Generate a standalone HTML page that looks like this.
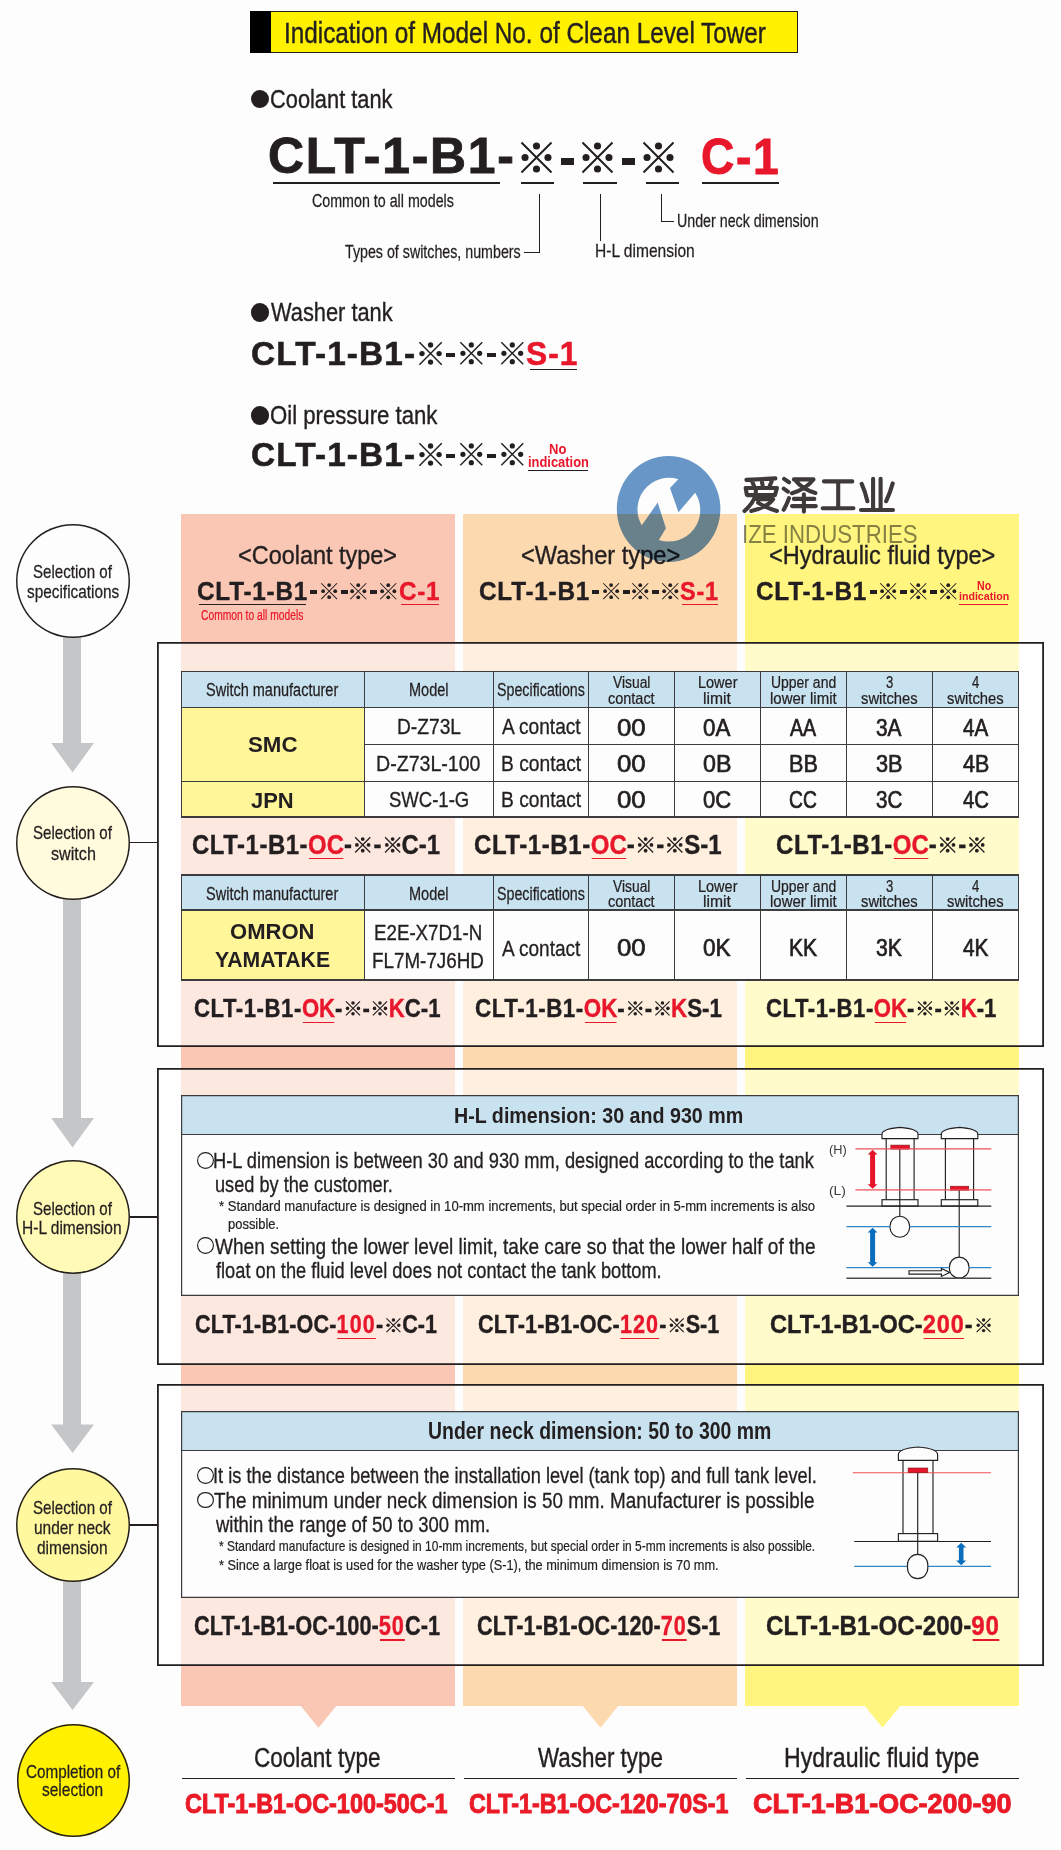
<!DOCTYPE html>
<html><head><meta charset="utf-8"><title>Indication of Model No. of Clean Level Tower</title>
<style>
html,body{margin:0;padding:0;background:#fdfdfd}
body{width:1061px;height:1850px;position:relative;overflow:hidden;font-family:"Liberation Sans",sans-serif;color:#231f20}
.t{position:absolute;white-space:nowrap;line-height:1;transform-origin:0 0;font-family:"Liberation Sans",sans-serif}
.r{position:absolute}
.k{display:inline-block;overflow:visible}
.rd{color:#e8172b}
.ul{position:relative;display:inline-block}
.ul:after{content:"";position:absolute;left:0.04em;right:0.02em;bottom:-0.05em;height:0.047em;background:currentColor}
svg{position:absolute;overflow:visible}
svg.k{position:static}
</style></head><body>
<svg width="0" height="0" style="position:absolute"><defs>
<symbol id="km" viewBox="0 0 100 100" overflow="visible"><path d="M1.5 1.5L98.5 98.5M98.5 1.5L1.5 98.5" stroke="currentColor" stroke-width="6.3" fill="none"/><circle cx="50" cy="13" r="11.5" fill="currentColor"/><circle cx="50" cy="87" r="11.5" fill="currentColor"/><circle cx="13" cy="50" r="11.5" fill="currentColor"/><circle cx="87" cy="50" r="11.5" fill="currentColor"/></symbol>
<symbol id="km2" viewBox="0 0 100 100" overflow="visible"><path d="M2 2L98 98M98 2L2 98" stroke="currentColor" stroke-width="8" fill="none"/><circle cx="50" cy="13" r="12" fill="currentColor"/><circle cx="50" cy="87" r="12" fill="currentColor"/><circle cx="13" cy="50" r="12" fill="currentColor"/><circle cx="87" cy="50" r="12" fill="currentColor"/></symbol>
</defs></svg>
<div class="r" style="left:181.25px;top:514.25px;width:273.75px;height:1191.45px;background:#f9c7b3;"></div>
<svg class="r" style="left:299.93px;top:1705px;width:38px;height:24px" viewBox="0 0 38 24"><path d="M0 0H37L18.5 22.8Z" fill="#f9c7b3"/></svg>
<div class="r" style="left:463.00px;top:514.25px;width:274.00px;height:1191.45px;background:#fdd9b0;"></div>
<svg class="r" style="left:581.80px;top:1705px;width:38px;height:24px" viewBox="0 0 38 24"><path d="M0 0H37L18.5 22.8Z" fill="#fdd9b0"/></svg>
<div class="r" style="left:745.00px;top:514.25px;width:274.00px;height:1191.45px;background:#fff57f;"></div>
<svg class="r" style="left:863.80px;top:1705px;width:38px;height:24px" viewBox="0 0 38 24"><path d="M0 0H37L18.5 22.8Z" fill="#fff57f"/></svg>
<div class="r" style="left:156.50px;top:642.00px;width:887.10px;height:405.40px;background:rgba(255,255,255,0.59);box-shadow:inset 0 0 0 1.80px #231f20;"></div>
<div class="r" style="left:156.50px;top:1067.90px;width:887.10px;height:296.90px;background:rgba(255,255,255,0.59);box-shadow:inset 0 0 0 1.80px #231f20;"></div>
<div class="r" style="left:156.50px;top:1384.30px;width:887.10px;height:282.10px;background:rgba(255,255,255,0.59);box-shadow:inset 0 0 0 1.80px #231f20;"></div>
<div class="r" style="left:250.00px;top:11.00px;width:547.50px;height:42.00px;background:#fff100;box-shadow:inset 0 0 0 1.00px #231f20;"></div>
<div class="r" style="left:250.00px;top:11.00px;width:21.00px;height:42.00px;background:#000;"></div>
<div class="t" id="t0" style="left:283.60px;top:17.82px;font-size:29.51px;font-weight:400;color:#231f20;transform:scaleX(0.8240);-webkit-text-stroke-width:0.44px;">Indication of Model No. of Clean Level Tower</div>
<div class="r" style="left:251.00px;top:89.85px;width:18.30px;height:18.30px;border-radius:50%;background:#231f20"></div>
<div class="t" id="t1" style="left:270.23px;top:86.48px;font-size:26.60px;font-weight:400;color:#231f20;transform:scaleX(0.8204);-webkit-text-stroke-width:0.39px;">Coolant tank</div>
<div class="r" style="left:251.00px;top:303.35px;width:18.30px;height:18.30px;border-radius:50%;background:#231f20"></div>
<div class="t" id="t2" style="left:270.70px;top:299.01px;font-size:26.45px;font-weight:400;color:#231f20;transform:scaleX(0.8252);-webkit-text-stroke-width:0.39px;">Washer tank</div>
<div class="r" style="left:251.00px;top:406.35px;width:18.30px;height:18.30px;border-radius:50%;background:#231f20"></div>
<div class="t" id="t3" style="left:269.66px;top:401.91px;font-size:26.45px;font-weight:400;color:#231f20;transform:scaleX(0.8376);-webkit-text-stroke-width:0.39px;">Oil pressure tank</div>
<div class="t" id="t4" style="left:268.44px;top:130.81px;font-size:50.44px;font-weight:700;color:#231f20;transform:scaleX(0.9883);-webkit-text-stroke-width:0.90px;letter-spacing:1.8px;">CLT-1-B1-</div>
<svg class="r" style="left:521.00px;top:141.80px;width:31.00px;height:31.00px" viewBox="0 0 100 100"><use href="#km"/></svg>
<svg class="r" style="left:582.00px;top:141.80px;width:31.00px;height:31.00px" viewBox="0 0 100 100"><use href="#km"/></svg>
<svg class="r" style="left:643.00px;top:141.80px;width:31.00px;height:31.00px" viewBox="0 0 100 100"><use href="#km"/></svg>
<div class="r" style="left:561.00px;top:157.80px;width:13.00px;height:7.00px;background:#231f20;"></div>
<div class="r" style="left:622.00px;top:157.80px;width:13.00px;height:7.00px;background:#231f20;"></div>
<div class="t" id="t5" style="left:700.56px;top:131.71px;font-size:50.44px;font-weight:700;color:#e8172b;transform:scaleX(0.9144);-webkit-text-stroke-width:0.90px;letter-spacing:1.8px;">C-1</div>
<div class="r" style="left:273.00px;top:181.80px;width:226.50px;height:2.40px;background:#231f20"></div>
<div class="r" style="left:521.00px;top:181.80px;width:33.40px;height:2.40px;background:#231f20"></div>
<div class="r" style="left:583.00px;top:181.80px;width:34.00px;height:2.40px;background:#231f20"></div>
<div class="r" style="left:646.00px;top:181.80px;width:33.00px;height:2.40px;background:#231f20"></div>
<div class="r" style="left:702.00px;top:181.80px;width:77.00px;height:2.40px;background:#231f20"></div>
<div class="t" id="t6" style="left:312.33px;top:192.99px;font-size:17.73px;font-weight:400;color:#231f20;transform:scaleX(0.8048);-webkit-text-stroke-width:0.26px;">Common to all models</div>
<div class="t" id="t7" style="left:344.78px;top:244.24px;font-size:17.73px;font-weight:400;color:#231f20;transform:scaleX(0.8035);-webkit-text-stroke-width:0.26px;">Types of switches, numbers</div>
<div class="t" id="t8" style="left:594.58px;top:242.89px;font-size:17.73px;font-weight:400;color:#231f20;transform:scaleX(0.8785);-webkit-text-stroke-width:0.26px;">H-L dimension</div>
<div class="t" id="t9" style="left:677.11px;top:213.29px;font-size:17.73px;font-weight:400;color:#231f20;transform:scaleX(0.8037);-webkit-text-stroke-width:0.26px;">Under neck dimension</div>
<div class="r" style="left:539.00px;top:194.00px;width:1.00px;height:58.80px;background:#231f20"></div>
<div class="r" style="left:524.00px;top:252.30px;width:16.00px;height:1.00px;background:#231f20"></div>
<div class="r" style="left:599.50px;top:194.00px;width:1.00px;height:46.70px;background:#231f20"></div>
<div class="r" style="left:661.20px;top:194.00px;width:1.00px;height:27.70px;background:#231f20"></div>
<div class="r" style="left:661.20px;top:221.20px;width:12.80px;height:1.00px;background:#231f20"></div>
<div class="t" id="t10" style="left:250.86px;top:337.07px;font-size:32.99px;font-weight:700;color:#231f20;transform:scaleX(1.0119);-webkit-text-stroke-width:0.55px;letter-spacing:1.1px;">CLT-1-B1-</div>
<svg class="r" style="left:418.50px;top:341.95px;width:23.10px;height:23.10px" viewBox="0 0 100 100"><use href="#km"/></svg>
<svg class="r" style="left:459.70px;top:342.20px;width:22.60px;height:22.60px" viewBox="0 0 100 100"><use href="#km"/></svg>
<svg class="r" style="left:500.80px;top:342.20px;width:22.60px;height:22.60px" viewBox="0 0 100 100"><use href="#km"/></svg>
<div class="r" style="left:446.40px;top:352.60px;width:9.10px;height:4.60px;background:#231f20;"></div>
<div class="r" style="left:487.00px;top:352.60px;width:9.00px;height:4.60px;background:#231f20;"></div>
<div class="t" id="t11" style="left:250.86px;top:438.17px;font-size:32.99px;font-weight:700;color:#231f20;transform:scaleX(1.0119);-webkit-text-stroke-width:0.55px;letter-spacing:1.1px;">CLT-1-B1-</div>
<svg class="r" style="left:418.50px;top:443.05px;width:23.10px;height:23.10px" viewBox="0 0 100 100"><use href="#km"/></svg>
<svg class="r" style="left:459.70px;top:443.30px;width:22.60px;height:22.60px" viewBox="0 0 100 100"><use href="#km"/></svg>
<svg class="r" style="left:500.80px;top:443.30px;width:22.60px;height:22.60px" viewBox="0 0 100 100"><use href="#km"/></svg>
<div class="r" style="left:446.40px;top:453.70px;width:9.10px;height:4.60px;background:#231f20;"></div>
<div class="r" style="left:487.00px;top:453.70px;width:9.00px;height:4.60px;background:#231f20;"></div>
<div class="t" id="t12" style="left:526.20px;top:337.07px;font-size:32.99px;font-weight:700;color:#e8172b;transform:scaleX(0.9616);-webkit-text-stroke-width:0.55px;letter-spacing:1.1px;">S-1</div>
<div class="r" style="left:530.00px;top:368.90px;width:47.00px;height:1.60px;background:#231f20"></div>
<div class="t" id="t13" style="left:548.86px;top:441.60px;font-size:14.53px;font-weight:700;color:#e8172b;transform:scaleX(0.8960);">No</div>
<div class="t" id="t14" style="left:527.85px;top:455.00px;font-size:14.30px;font-weight:700;color:#e8172b;transform:scaleX(0.9023);">indication</div>
<div class="r" style="left:528.00px;top:470.10px;width:60.30px;height:1.40px;background:#231f20"></div>
<div class="t" id="t15" style="left:238.30px;top:542.72px;font-size:25.73px;font-weight:400;color:#231f20;transform:scaleX(0.9118);-webkit-text-stroke-width:0.38px;">&lt;Coolant type&gt;</div>
<div class="t" id="t16" style="left:520.69px;top:542.72px;font-size:25.73px;font-weight:400;color:#231f20;transform:scaleX(0.9177);-webkit-text-stroke-width:0.38px;">&lt;Washer type&gt;</div>
<div class="t" id="t17" style="left:768.90px;top:542.72px;font-size:25.73px;font-weight:400;color:#231f20;transform:scaleX(0.9153);-webkit-text-stroke-width:0.38px;">&lt;Hydraulic fluid type&gt;</div>
<div class="t" id="t18" style="left:196.64px;top:579.10px;font-size:25.87px;font-weight:700;color:#231f20;transform:scaleX(0.9410);-webkit-text-stroke-width:0.40px;letter-spacing:0.8px;">CLT-1-B1</div>
<svg class="r" style="left:320.60px;top:582.85px;width:16.30px;height:16.30px" viewBox="0 0 100 100"><use href="#km"/></svg>
<svg class="r" style="left:350.10px;top:582.75px;width:16.50px;height:16.50px" viewBox="0 0 100 100"><use href="#km"/></svg>
<svg class="r" style="left:380.30px;top:582.75px;width:16.50px;height:16.50px" viewBox="0 0 100 100"><use href="#km"/></svg>
<div class="r" style="left:310.30px;top:590.20px;width:7.20px;height:4.10px;background:#231f20;"></div>
<div class="r" style="left:340.80px;top:590.20px;width:7.00px;height:4.10px;background:#231f20;"></div>
<div class="r" style="left:370.30px;top:590.20px;width:7.00px;height:4.10px;background:#231f20;"></div>
<div class="t" id="t19" style="left:398.84px;top:579.10px;font-size:25.87px;font-weight:700;color:#e8172b;transform:scaleX(0.9372);-webkit-text-stroke-width:0.40px;letter-spacing:0.8px;">C-1</div>
<div class="r" style="left:401.00px;top:603.65px;width:37.80px;height:1.30px;background:#e8172b"></div>
<div class="t" id="t20" style="left:478.64px;top:579.10px;font-size:25.87px;font-weight:700;color:#231f20;transform:scaleX(0.9410);-webkit-text-stroke-width:0.40px;letter-spacing:0.8px;">CLT-1-B1</div>
<svg class="r" style="left:602.60px;top:582.85px;width:16.30px;height:16.30px" viewBox="0 0 100 100"><use href="#km"/></svg>
<svg class="r" style="left:632.10px;top:582.75px;width:16.50px;height:16.50px" viewBox="0 0 100 100"><use href="#km"/></svg>
<svg class="r" style="left:662.30px;top:582.75px;width:16.50px;height:16.50px" viewBox="0 0 100 100"><use href="#km"/></svg>
<div class="r" style="left:592.30px;top:590.20px;width:7.20px;height:4.10px;background:#231f20;"></div>
<div class="r" style="left:622.80px;top:590.20px;width:7.00px;height:4.10px;background:#231f20;"></div>
<div class="r" style="left:652.30px;top:590.20px;width:7.00px;height:4.10px;background:#231f20;"></div>
<div class="t" id="t21" style="left:680.23px;top:579.10px;font-size:25.87px;font-weight:700;color:#e8172b;transform:scaleX(0.9091);-webkit-text-stroke-width:0.40px;letter-spacing:0.8px;">S-1</div>
<div class="r" style="left:682.00px;top:603.65px;width:35.90px;height:1.30px;background:#e8172b"></div>
<div class="t" id="t22" style="left:756.14px;top:579.10px;font-size:25.87px;font-weight:700;color:#231f20;transform:scaleX(0.9410);-webkit-text-stroke-width:0.40px;letter-spacing:0.8px;">CLT-1-B1</div>
<svg class="r" style="left:880.10px;top:582.85px;width:16.30px;height:16.30px" viewBox="0 0 100 100"><use href="#km"/></svg>
<svg class="r" style="left:909.60px;top:582.75px;width:16.50px;height:16.50px" viewBox="0 0 100 100"><use href="#km"/></svg>
<svg class="r" style="left:939.80px;top:582.75px;width:16.50px;height:16.50px" viewBox="0 0 100 100"><use href="#km"/></svg>
<div class="r" style="left:869.80px;top:590.20px;width:7.20px;height:4.10px;background:#231f20;"></div>
<div class="r" style="left:900.30px;top:590.20px;width:7.00px;height:4.10px;background:#231f20;"></div>
<div class="r" style="left:929.80px;top:590.20px;width:7.00px;height:4.10px;background:#231f20;"></div>
<div class="r" style="left:199.30px;top:603.60px;width:107.00px;height:1.20px;background:#231f20"></div>
<div class="t" id="t23" style="left:201.21px;top:607.90px;font-size:14.53px;font-weight:400;color:#e8172b;transform:scaleX(0.7088);-webkit-text-stroke-width:0.22px;">Common to all models</div>
<div class="t" id="t24" style="left:976.63px;top:581.11px;font-size:11.92px;font-weight:700;color:#e8172b;transform:scaleX(0.8899);">No</div>
<div class="t" id="t25" style="left:958.61px;top:590.18px;font-size:11.60px;font-weight:700;color:#e8172b;transform:scaleX(0.9158);">indication</div>
<div class="r" style="left:959.00px;top:603.80px;width:49.30px;height:1.20px;background:#e8172b"></div>
<div class="r" style="left:181.25px;top:707.50px;width:837.25px;height:109.50px;background:#fdfdfd;"></div>
<div class="r" style="left:181.25px;top:707.50px;width:183.25px;height:109.50px;background:#fff599;"></div>
<div class="r" style="left:181.25px;top:671.25px;width:837.25px;height:36.25px;background:#c9e2ef;"></div>
<div class="t" id="t26" style="left:205.80px;top:682.18px;font-size:17.81px;font-weight:400;color:#231f20;transform:scaleX(0.8154);-webkit-text-stroke-width:0.26px;">Switch manufacturer</div>
<div class="t" id="t27" style="left:408.86px;top:682.18px;font-size:17.81px;font-weight:400;color:#231f20;transform:scaleX(0.8166);-webkit-text-stroke-width:0.26px;">Model</div>
<div class="t" id="t28" style="left:497.05px;top:682.18px;font-size:17.81px;font-weight:400;color:#231f20;transform:scaleX(0.8004);-webkit-text-stroke-width:0.26px;">Specifications</div>
<div class="t" id="t29" style="left:613.00px;top:674.40px;font-size:16.42px;font-weight:400;color:#231f20;transform:scaleX(0.8428);-webkit-text-stroke-width:0.24px;">Visual</div>
<div class="t" id="t30" style="left:608.30px;top:689.85px;font-size:16.42px;font-weight:400;color:#231f20;transform:scaleX(0.8818);-webkit-text-stroke-width:0.24px;">contact</div>
<div class="t" id="t31" style="left:697.62px;top:674.40px;font-size:16.42px;font-weight:400;color:#231f20;transform:scaleX(0.8829);-webkit-text-stroke-width:0.24px;">Lower</div>
<div class="t" id="t32" style="left:703.27px;top:689.85px;font-size:16.42px;font-weight:400;color:#231f20;transform:scaleX(0.9574);-webkit-text-stroke-width:0.24px;">limit</div>
<div class="t" id="t33" style="left:771.13px;top:674.40px;font-size:16.42px;font-weight:400;color:#231f20;transform:scaleX(0.8503);-webkit-text-stroke-width:0.24px;">Upper and</div>
<div class="t" id="t34" style="left:770.31px;top:689.85px;font-size:16.42px;font-weight:400;color:#231f20;transform:scaleX(0.9136);-webkit-text-stroke-width:0.24px;">lower limit</div>
<div class="t" id="t35" style="left:885.91px;top:674.42px;font-size:16.40px;font-weight:400;color:#231f20;transform:scaleX(0.8000);-webkit-text-stroke-width:0.24px;">3</div>
<div class="t" id="t36" style="left:861.27px;top:689.85px;font-size:16.42px;font-weight:400;color:#231f20;transform:scaleX(0.9010);-webkit-text-stroke-width:0.24px;">switches</div>
<div class="t" id="t37" style="left:971.91px;top:674.42px;font-size:16.40px;font-weight:400;color:#231f20;transform:scaleX(0.8000);-webkit-text-stroke-width:0.24px;">4</div>
<div class="t" id="t38" style="left:947.27px;top:689.85px;font-size:16.42px;font-weight:400;color:#231f20;transform:scaleX(0.9010);-webkit-text-stroke-width:0.24px;">switches</div>
<div class="t" id="t39" style="left:247.65px;top:734.29px;font-size:21.80px;font-weight:700;color:#231f20;transform:scaleX(1.0224);">SMC</div>
<div class="t" id="t40" style="left:251.25px;top:790.04px;font-size:21.80px;font-weight:700;color:#231f20;transform:scaleX(1.0069);">JPN</div>
<div class="t" id="t41" style="left:396.50px;top:716.18px;font-size:22.53px;font-weight:400;color:#231f20;transform:scaleX(0.8522);-webkit-text-stroke-width:0.33px;">D-Z73L</div>
<div class="t" id="t42" style="left:375.97px;top:752.68px;font-size:22.53px;font-weight:400;color:#231f20;transform:scaleX(0.8699);-webkit-text-stroke-width:0.33px;">D-Z73L-100</div>
<div class="t" id="t43" style="left:388.67px;top:788.93px;font-size:22.53px;font-weight:400;color:#231f20;transform:scaleX(0.8222);-webkit-text-stroke-width:0.33px;">SWC-1-G</div>
<div class="t" id="t44" style="left:502.00px;top:716.43px;font-size:22.53px;font-weight:400;color:#231f20;transform:scaleX(0.8495);-webkit-text-stroke-width:0.33px;">A contact</div>
<div class="t" id="t45" style="left:500.50px;top:752.83px;font-size:22.53px;font-weight:400;color:#231f20;transform:scaleX(0.8542);-webkit-text-stroke-width:0.33px;">B contact</div>
<div class="t" id="t46" style="left:500.50px;top:789.13px;font-size:22.53px;font-weight:400;color:#231f20;transform:scaleX(0.8542);-webkit-text-stroke-width:0.33px;">B contact</div>
<div class="t" id="t47" style="left:617.17px;top:715.71px;font-size:24.56px;font-weight:400;color:#231f20;transform:scaleX(1.0527);-webkit-text-stroke-width:0.70px;">00</div>
<div class="t" id="t48" style="left:703.43px;top:715.71px;font-size:24.56px;font-weight:400;color:#231f20;transform:scaleX(0.9104);-webkit-text-stroke-width:0.70px;">0A</div>
<div class="t" id="t49" style="left:790.38px;top:715.71px;font-size:24.56px;font-weight:400;color:#231f20;transform:scaleX(0.7986);-webkit-text-stroke-width:0.70px;">AA</div>
<div class="t" id="t50" style="left:876.35px;top:715.71px;font-size:24.56px;font-weight:400;color:#231f20;transform:scaleX(0.8508);-webkit-text-stroke-width:0.70px;">3A</div>
<div class="t" id="t51" style="left:962.68px;top:715.71px;font-size:24.56px;font-weight:400;color:#231f20;transform:scaleX(0.8398);-webkit-text-stroke-width:0.70px;">4A</div>
<div class="t" id="t52" style="left:617.17px;top:752.21px;font-size:24.56px;font-weight:400;color:#231f20;transform:scaleX(1.0527);-webkit-text-stroke-width:0.70px;">00</div>
<div class="t" id="t53" style="left:703.40px;top:752.21px;font-size:24.56px;font-weight:400;color:#231f20;transform:scaleX(0.9475);-webkit-text-stroke-width:0.70px;">0B</div>
<div class="t" id="t54" style="left:788.68px;top:752.21px;font-size:24.56px;font-weight:400;color:#231f20;transform:scaleX(0.8809);-webkit-text-stroke-width:0.70px;">BB</div>
<div class="t" id="t55" style="left:876.32px;top:752.21px;font-size:24.56px;font-weight:400;color:#231f20;transform:scaleX(0.8855);-webkit-text-stroke-width:0.70px;">3B</div>
<div class="t" id="t56" style="left:962.66px;top:752.21px;font-size:24.56px;font-weight:400;color:#231f20;transform:scaleX(0.8736);-webkit-text-stroke-width:0.70px;">4B</div>
<div class="t" id="t57" style="left:617.17px;top:787.51px;font-size:24.56px;font-weight:400;color:#231f20;transform:scaleX(1.0527);-webkit-text-stroke-width:0.70px;">00</div>
<div class="t" id="t58" style="left:703.44px;top:787.51px;font-size:24.56px;font-weight:400;color:#231f20;transform:scaleX(0.8985);-webkit-text-stroke-width:0.70px;">0C</div>
<div class="t" id="t59" style="left:789.47px;top:787.51px;font-size:24.56px;font-weight:400;color:#231f20;transform:scaleX(0.7844);-webkit-text-stroke-width:0.70px;">CC</div>
<div class="t" id="t60" style="left:876.36px;top:787.51px;font-size:24.56px;font-weight:400;color:#231f20;transform:scaleX(0.8397);-webkit-text-stroke-width:0.70px;">3C</div>
<div class="t" id="t61" style="left:962.68px;top:787.51px;font-size:24.56px;font-weight:400;color:#231f20;transform:scaleX(0.8290);-webkit-text-stroke-width:0.70px;">4C</div>
<div class="r" style="left:181.25px;top:670.60px;width:837.25px;height:1.30px;background:#3c3c3f"></div>
<div class="r" style="left:181.25px;top:706.85px;width:837.25px;height:1.30px;background:#3c3c3f"></div>
<div class="r" style="left:364.50px;top:743.85px;width:654.00px;height:1.30px;background:#3c3c3f"></div>
<div class="r" style="left:181.25px;top:781.10px;width:837.25px;height:1.30px;background:#3c3c3f"></div>
<div class="r" style="left:181.25px;top:816.35px;width:837.25px;height:1.30px;background:#3c3c3f"></div>
<div class="r" style="left:180.60px;top:670.50px;width:1.30px;height:147.25px;background:#3c3c3f"></div>
<div class="r" style="left:363.85px;top:670.50px;width:1.30px;height:147.25px;background:#3c3c3f"></div>
<div class="r" style="left:492.60px;top:670.50px;width:1.30px;height:147.25px;background:#3c3c3f"></div>
<div class="r" style="left:588.10px;top:670.50px;width:1.30px;height:147.25px;background:#3c3c3f"></div>
<div class="r" style="left:673.85px;top:670.50px;width:1.30px;height:147.25px;background:#3c3c3f"></div>
<div class="r" style="left:759.85px;top:670.50px;width:1.30px;height:147.25px;background:#3c3c3f"></div>
<div class="r" style="left:845.85px;top:670.50px;width:1.30px;height:147.25px;background:#3c3c3f"></div>
<div class="r" style="left:931.85px;top:670.50px;width:1.30px;height:147.25px;background:#3c3c3f"></div>
<div class="r" style="left:1017.85px;top:670.50px;width:1.30px;height:147.25px;background:#3c3c3f"></div>
<div class="r" style="left:181.25px;top:910.10px;width:837.25px;height:70.00px;background:#fdfdfd;"></div>
<div class="r" style="left:181.25px;top:910.10px;width:183.25px;height:70.00px;background:#fff599;"></div>
<div class="r" style="left:181.25px;top:874.95px;width:837.25px;height:35.15px;background:#c9e2ef;"></div>
<div class="t" id="t62" style="left:205.80px;top:885.88px;font-size:17.81px;font-weight:400;color:#231f20;transform:scaleX(0.8154);-webkit-text-stroke-width:0.26px;">Switch manufacturer</div>
<div class="t" id="t63" style="left:408.86px;top:885.88px;font-size:17.81px;font-weight:400;color:#231f20;transform:scaleX(0.8166);-webkit-text-stroke-width:0.26px;">Model</div>
<div class="t" id="t64" style="left:497.05px;top:885.88px;font-size:17.81px;font-weight:400;color:#231f20;transform:scaleX(0.8004);-webkit-text-stroke-width:0.26px;">Specifications</div>
<div class="t" id="t65" style="left:613.00px;top:878.10px;font-size:16.42px;font-weight:400;color:#231f20;transform:scaleX(0.8428);-webkit-text-stroke-width:0.24px;">Visual</div>
<div class="t" id="t66" style="left:608.30px;top:892.55px;font-size:16.42px;font-weight:400;color:#231f20;transform:scaleX(0.8818);-webkit-text-stroke-width:0.24px;">contact</div>
<div class="t" id="t67" style="left:697.62px;top:878.10px;font-size:16.42px;font-weight:400;color:#231f20;transform:scaleX(0.8829);-webkit-text-stroke-width:0.24px;">Lower</div>
<div class="t" id="t68" style="left:703.27px;top:892.55px;font-size:16.42px;font-weight:400;color:#231f20;transform:scaleX(0.9574);-webkit-text-stroke-width:0.24px;">limit</div>
<div class="t" id="t69" style="left:771.13px;top:878.10px;font-size:16.42px;font-weight:400;color:#231f20;transform:scaleX(0.8503);-webkit-text-stroke-width:0.24px;">Upper and</div>
<div class="t" id="t70" style="left:770.31px;top:892.55px;font-size:16.42px;font-weight:400;color:#231f20;transform:scaleX(0.9136);-webkit-text-stroke-width:0.24px;">lower limit</div>
<div class="t" id="t71" style="left:885.91px;top:878.12px;font-size:16.40px;font-weight:400;color:#231f20;transform:scaleX(0.8000);-webkit-text-stroke-width:0.24px;">3</div>
<div class="t" id="t72" style="left:861.27px;top:892.55px;font-size:16.42px;font-weight:400;color:#231f20;transform:scaleX(0.9010);-webkit-text-stroke-width:0.24px;">switches</div>
<div class="t" id="t73" style="left:971.91px;top:878.12px;font-size:16.40px;font-weight:400;color:#231f20;transform:scaleX(0.8000);-webkit-text-stroke-width:0.24px;">4</div>
<div class="t" id="t74" style="left:947.27px;top:892.55px;font-size:16.42px;font-weight:400;color:#231f20;transform:scaleX(0.9010);-webkit-text-stroke-width:0.24px;">switches</div>
<div class="t" id="t75" style="left:230.31px;top:922.49px;font-size:21.51px;font-weight:700;color:#231f20;transform:scaleX(1.0257);">OMRON</div>
<div class="t" id="t76" style="left:215.07px;top:950.49px;font-size:21.51px;font-weight:700;color:#231f20;transform:scaleX(0.9865);">YAMATAKE</div>
<div class="t" id="t77" style="left:374.14px;top:921.90px;font-size:22.09px;font-weight:400;color:#231f20;transform:scaleX(0.8478);-webkit-text-stroke-width:0.33px;">E2E-X7D1-N</div>
<div class="t" id="t78" style="left:371.63px;top:949.90px;font-size:22.09px;font-weight:400;color:#231f20;transform:scaleX(0.8526);-webkit-text-stroke-width:0.33px;">FL7M-7J6HD</div>
<div class="t" id="t79" style="left:501.80px;top:938.43px;font-size:22.53px;font-weight:400;color:#231f20;transform:scaleX(0.8457);-webkit-text-stroke-width:0.33px;">A contact</div>
<div class="t" id="t80" style="left:617.17px;top:936.21px;font-size:24.56px;font-weight:400;color:#231f20;transform:scaleX(1.0527);-webkit-text-stroke-width:0.70px;">00</div>
<div class="t" id="t81" style="left:703.42px;top:936.21px;font-size:24.56px;font-weight:400;color:#231f20;transform:scaleX(0.9224);-webkit-text-stroke-width:0.70px;">0K</div>
<div class="t" id="t82" style="left:788.73px;top:936.21px;font-size:24.56px;font-weight:400;color:#231f20;transform:scaleX(0.8588);-webkit-text-stroke-width:0.70px;">KK</div>
<div class="t" id="t83" style="left:876.34px;top:936.21px;font-size:24.56px;font-weight:400;color:#231f20;transform:scaleX(0.8621);-webkit-text-stroke-width:0.70px;">3K</div>
<div class="t" id="t84" style="left:962.67px;top:936.21px;font-size:24.56px;font-weight:400;color:#231f20;transform:scaleX(0.8508);-webkit-text-stroke-width:0.70px;">4K</div>
<div class="r" style="left:181.25px;top:874.30px;width:837.25px;height:1.30px;background:#3c3c3f"></div>
<div class="r" style="left:181.25px;top:909.45px;width:837.25px;height:1.30px;background:#3c3c3f"></div>
<div class="r" style="left:181.25px;top:979.45px;width:837.25px;height:1.30px;background:#3c3c3f"></div>
<div class="r" style="left:180.60px;top:874.20px;width:1.30px;height:106.65px;background:#3c3c3f"></div>
<div class="r" style="left:363.85px;top:874.20px;width:1.30px;height:106.65px;background:#3c3c3f"></div>
<div class="r" style="left:492.60px;top:874.20px;width:1.30px;height:106.65px;background:#3c3c3f"></div>
<div class="r" style="left:588.10px;top:874.20px;width:1.30px;height:106.65px;background:#3c3c3f"></div>
<div class="r" style="left:673.85px;top:874.20px;width:1.30px;height:106.65px;background:#3c3c3f"></div>
<div class="r" style="left:759.85px;top:874.20px;width:1.30px;height:106.65px;background:#3c3c3f"></div>
<div class="r" style="left:845.85px;top:874.20px;width:1.30px;height:106.65px;background:#3c3c3f"></div>
<div class="r" style="left:931.85px;top:874.20px;width:1.30px;height:106.65px;background:#3c3c3f"></div>
<div class="r" style="left:1017.85px;top:874.20px;width:1.30px;height:106.65px;background:#3c3c3f"></div>
<div class="t" id="t85" style="left:191.95px;top:830.89px;font-size:27.18px;font-weight:700;color:#231f20;transform:scaleX(0.8802);-webkit-text-stroke-width:0.40px;"><span style="letter-spacing:0.62px">CLT-1-B1-</span><span class="rd ul">OC</span>-<svg class="k" style="width:0.659em;height:0.580em;margin:0 0.114em 0 0.125em;vertical-align:0.055em" viewBox="0 0 100 100" preserveAspectRatio="none"><use href="#km2"/></svg>-<svg class="k" style="width:0.659em;height:0.580em;margin:0 0.057em 0 0.125em;vertical-align:0.055em" viewBox="0 0 100 100" preserveAspectRatio="none"><use href="#km2"/></svg>C-1</div>
<div class="t" id="t86" style="left:474.45px;top:830.89px;font-size:27.18px;font-weight:700;color:#231f20;transform:scaleX(0.8850);-webkit-text-stroke-width:0.40px;"><span style="letter-spacing:0.62px">CLT-1-B1-</span><span class="rd ul">OC</span>-<svg class="k" style="width:0.655em;height:0.580em;margin:0 0.113em 0 0.124em;vertical-align:0.055em" viewBox="0 0 100 100" preserveAspectRatio="none"><use href="#km2"/></svg>-<svg class="k" style="width:0.655em;height:0.580em;margin:0 0.056em 0 0.124em;vertical-align:0.055em" viewBox="0 0 100 100" preserveAspectRatio="none"><use href="#km2"/></svg>S-1</div>
<div class="t" id="t87" style="left:776.35px;top:830.89px;font-size:27.18px;font-weight:700;color:#231f20;transform:scaleX(0.8853);-webkit-text-stroke-width:0.40px;"><span style="letter-spacing:0.62px">CLT-1-B1-</span><span class="rd ul">OC</span>-<svg class="k" style="width:0.655em;height:0.580em;margin:0 0.113em 0 0.124em;vertical-align:0.055em" viewBox="0 0 100 100" preserveAspectRatio="none"><use href="#km2"/></svg>-<svg class="k" style="width:0.655em;height:0.580em;margin:0 0.113em 0 0.124em;vertical-align:0.055em" viewBox="0 0 100 100" preserveAspectRatio="none"><use href="#km2"/></svg></div>
<div class="t" id="t88" style="left:193.61px;top:996.27px;font-size:25.44px;font-weight:700;color:#231f20;transform:scaleX(0.8713);-webkit-text-stroke-width:0.40px;"><span style="letter-spacing:0.62px">CLT-1-B1-</span><span class="rd ul">OK</span>-<svg class="k" style="width:0.665em;height:0.580em;margin:0 0.115em 0 0.126em;vertical-align:0.055em" viewBox="0 0 100 100" preserveAspectRatio="none"><use href="#km2"/></svg>-<svg class="k" style="width:0.665em;height:0.580em;margin:0 0.057em 0 0.126em;vertical-align:0.055em" viewBox="0 0 100 100" preserveAspectRatio="none"><use href="#km2"/></svg><span class="rd">K</span>C-1</div>
<div class="t" id="t89" style="left:475.40px;top:996.27px;font-size:25.44px;font-weight:700;color:#231f20;transform:scaleX(0.8785);-webkit-text-stroke-width:0.40px;"><span style="letter-spacing:0.62px">CLT-1-B1-</span><span class="rd ul">OK</span>-<svg class="k" style="width:0.660em;height:0.580em;margin:0 0.114em 0 0.125em;vertical-align:0.055em" viewBox="0 0 100 100" preserveAspectRatio="none"><use href="#km2"/></svg>-<svg class="k" style="width:0.660em;height:0.580em;margin:0 0.057em 0 0.125em;vertical-align:0.055em" viewBox="0 0 100 100" preserveAspectRatio="none"><use href="#km2"/></svg><span class="rd">K</span>S-1</div>
<div class="t" id="t90" style="left:765.61px;top:996.27px;font-size:25.44px;font-weight:700;color:#231f20;transform:scaleX(0.8707);-webkit-text-stroke-width:0.40px;"><span style="letter-spacing:0.62px">CLT-1-B1-</span><span class="rd ul">OK</span>-<svg class="k" style="width:0.666em;height:0.580em;margin:0 0.115em 0 0.126em;vertical-align:0.055em" viewBox="0 0 100 100" preserveAspectRatio="none"><use href="#km2"/></svg>-<svg class="k" style="width:0.666em;height:0.580em;margin:0 0.057em 0 0.126em;vertical-align:0.055em" viewBox="0 0 100 100" preserveAspectRatio="none"><use href="#km2"/></svg><span class="rd">K</span>-1</div>
<div class="t" id="t91" style="left:195.33px;top:1312.44px;font-size:25.00px;font-weight:700;color:#231f20;transform:scaleX(0.8612);-webkit-text-stroke-width:0.40px;"><span style="letter-spacing:0.20px">CLT-1-B1-OC-</span><span class="rd ul" style="letter-spacing:1.30px">100</span>-<svg class="k" style="width:0.673em;height:0.580em;margin:0 0.058em 0 0.163em;vertical-align:0.055em" viewBox="0 0 100 100" preserveAspectRatio="none"><use href="#km2"/></svg>C-1</div>
<div class="t" id="t92" style="left:478.33px;top:1312.44px;font-size:25.00px;font-weight:700;color:#231f20;transform:scaleX(0.8628);-webkit-text-stroke-width:0.40px;"><span style="letter-spacing:0.20px">CLT-1-B1-OC-</span><span class="rd ul" style="letter-spacing:1.30px">120</span>-<svg class="k" style="width:0.672em;height:0.580em;margin:0 0.058em 0 0.162em;vertical-align:0.055em" viewBox="0 0 100 100" preserveAspectRatio="none"><use href="#km2"/></svg>S-1</div>
<div class="t" id="t93" style="left:770.16px;top:1312.44px;font-size:25.00px;font-weight:700;color:#231f20;transform:scaleX(0.9422);-webkit-text-stroke-width:0.40px;">CLT-1-B1-OC-<span class="rd ul" style="letter-spacing:1.00px">200</span>-<svg class="k" style="width:0.616em;height:0.580em;margin:0 0.106em 0 0.149em;vertical-align:0.055em" viewBox="0 0 100 100" preserveAspectRatio="none"><use href="#km2"/></svg></div>
<div class="t" id="t94" style="left:193.82px;top:1612.09px;font-size:27.18px;font-weight:700;color:#231f20;transform:scaleX(0.8016);-webkit-text-stroke-width:0.40px;">CLT-1-B1-OC-100-<span class="rd ul" style="letter-spacing:1.20px">50</span>C-1</div>
<div class="t" id="t95" style="left:477.32px;top:1612.09px;font-size:27.18px;font-weight:700;color:#231f20;transform:scaleX(0.7970);-webkit-text-stroke-width:0.40px;">CLT-1-B1-OC-120-<span class="rd ul" style="letter-spacing:1.20px">70</span>S-1</div>
<div class="t" id="t96" style="left:765.74px;top:1612.09px;font-size:27.18px;font-weight:700;color:#231f20;transform:scaleX(0.8907);-webkit-text-stroke-width:0.40px;">CLT-1-B1-OC-200-<span class="rd ul" style="letter-spacing:0.80px">90</span></div>
<div class="t" id="t97" style="left:254.44px;top:1743.69px;font-size:27.18px;font-weight:400;color:#231f20;transform:scaleX(0.8289);-webkit-text-stroke-width:0.40px;">Coolant type</div>
<div class="t" id="t98" style="left:537.80px;top:1743.69px;font-size:27.18px;font-weight:400;color:#231f20;transform:scaleX(0.8244);-webkit-text-stroke-width:0.40px;">Washer type</div>
<div class="t" id="t99" style="left:784.49px;top:1743.69px;font-size:27.18px;font-weight:400;color:#231f20;transform:scaleX(0.8505);-webkit-text-stroke-width:0.40px;">Hydraulic fluid type</div>
<div class="r" style="left:181.80px;top:1777.60px;width:272.80px;height:1.20px;background:#231f20"></div>
<div class="r" style="left:463.60px;top:1777.60px;width:273.00px;height:1.20px;background:#231f20"></div>
<div class="r" style="left:746.30px;top:1777.60px;width:272.40px;height:1.20px;background:#231f20"></div>
<div class="t" id="t100" style="left:184.77px;top:1791.41px;font-size:27.03px;font-weight:700;color:#ea1b27;transform:scaleX(0.8674);-webkit-text-stroke-width:0.95px;">CLT-1-B1-OC-100-50C-1</div>
<div class="t" id="t101" style="left:468.57px;top:1791.41px;font-size:27.03px;font-weight:700;color:#ea1b27;transform:scaleX(0.8614);-webkit-text-stroke-width:0.95px;">CLT-1-B1-OC-120-70S-1</div>
<div class="t" id="t102" style="left:752.86px;top:1791.41px;font-size:27.03px;font-weight:700;color:#ea1b27;transform:scaleX(0.9970);-webkit-text-stroke-width:0.95px;">CLT-1-B1-OC-200-90</div>
<div class="r" style="left:181.10px;top:1134.20px;width:837.60px;height:161.40px;background:#fdfdfd;"></div>
<div class="r" style="left:181.10px;top:1096.00px;width:837.60px;height:38.20px;background:#c9e2ef;"></div>
<div class="r" style="left:180.50px;top:1095.40px;width:838.80px;height:200.80px;box-shadow:inset 0 0 0 1.20px #3c3c3f;"></div>
<div class="r" style="left:181.10px;top:1133.60px;width:837.60px;height:1.20px;background:#3c3c3f"></div>
<div class="t" id="t103" style="left:454.37px;top:1104.36px;font-size:22.97px;font-weight:700;color:#231f20;transform:scaleX(0.8561);">H-L dimension: 30 and 930 mm</div>
<div class="r" style="left:196.80px;top:1151.80px;width:16.80px;height:16.80px;border-radius:50%;box-shadow:inset 0 0 0 1.15px #231f20"></div>
<div class="t" id="t104" style="left:213.27px;top:1150.03px;font-size:22.53px;font-weight:400;color:#231f20;transform:scaleX(0.8119);-webkit-text-stroke-width:0.33px;">H-L dimension is between 30 and 930 mm, designed according to the tank</div>
<div class="t" id="t105" style="left:214.86px;top:1174.33px;font-size:22.53px;font-weight:400;color:#231f20;transform:scaleX(0.8071);-webkit-text-stroke-width:0.33px;">used by the customer.</div>
<div class="t" id="t106" style="left:218.84px;top:1197.96px;font-size:15.41px;font-weight:400;color:#231f20;transform:scaleX(0.8479);-webkit-text-stroke-width:0.23px;">* Standard manufacture is designed in 10-mm increments, but special order in 5-mm increments is also</div>
<div class="t" id="t107" style="left:227.61px;top:1215.76px;font-size:15.41px;font-weight:400;color:#231f20;transform:scaleX(0.8407);-webkit-text-stroke-width:0.23px;">possible.</div>
<div class="r" style="left:196.80px;top:1237.40px;width:16.80px;height:16.80px;border-radius:50%;box-shadow:inset 0 0 0 1.15px #231f20"></div>
<div class="t" id="t108" style="left:214.70px;top:1235.73px;font-size:22.53px;font-weight:400;color:#231f20;transform:scaleX(0.8463);-webkit-text-stroke-width:0.33px;">When setting the lower level limit, take care so that the lower half of the</div>
<div class="t" id="t109" style="left:216.00px;top:1260.43px;font-size:22.53px;font-weight:400;color:#231f20;transform:scaleX(0.8092);-webkit-text-stroke-width:0.33px;">float on the fluid level does not contact the tank bottom.</div>
<div class="r" style="left:181.10px;top:1450.30px;width:837.60px;height:147.10px;background:#fdfdfd;"></div>
<div class="r" style="left:181.10px;top:1411.40px;width:837.60px;height:38.90px;background:#c9e2ef;"></div>
<div class="r" style="left:180.50px;top:1410.80px;width:838.80px;height:187.20px;box-shadow:inset 0 0 0 1.20px #3c3c3f;"></div>
<div class="r" style="left:181.10px;top:1449.70px;width:837.60px;height:1.20px;background:#3c3c3f"></div>
<div class="t" id="t110" style="left:427.59px;top:1419.91px;font-size:23.26px;font-weight:700;color:#231f20;transform:scaleX(0.8355);">Under neck dimension: 50 to 300 mm</div>
<div class="r" style="left:196.80px;top:1466.80px;width:16.80px;height:16.80px;border-radius:50%;box-shadow:inset 0 0 0 1.15px #231f20"></div>
<div class="t" id="t111" style="left:212.77px;top:1464.93px;font-size:22.53px;font-weight:400;color:#231f20;transform:scaleX(0.8109);-webkit-text-stroke-width:0.33px;">It is the distance between the installation level (tank top) and full tank level.</div>
<div class="r" style="left:196.80px;top:1491.60px;width:16.80px;height:16.80px;border-radius:50%;box-shadow:inset 0 0 0 1.15px #231f20"></div>
<div class="t" id="t112" style="left:214.41px;top:1489.73px;font-size:22.53px;font-weight:400;color:#231f20;transform:scaleX(0.8373);-webkit-text-stroke-width:0.33px;">The minimum under neck dimension is 50 mm. Manufacturer is possible</div>
<div class="t" id="t113" style="left:216.29px;top:1513.93px;font-size:22.53px;font-weight:400;color:#231f20;transform:scaleX(0.8204);-webkit-text-stroke-width:0.33px;">within the range of 50 to 300 mm.</div>
<div class="t" id="t114" style="left:218.85px;top:1538.36px;font-size:15.41px;font-weight:400;color:#231f20;transform:scaleX(0.7762);-webkit-text-stroke-width:0.23px;">* Standard manufacture is designed in 10-mm increments, but special order in 5-mm increments is also possible.</div>
<div class="t" id="t115" style="left:218.84px;top:1557.26px;font-size:15.41px;font-weight:400;color:#231f20;transform:scaleX(0.8288);-webkit-text-stroke-width:0.23px;">* Since a large float is used for the washer type (S-1), the minimum dimension is 70 mm.</div>
<svg class="r" style="left:51px;top:630.00px;width:44px;height:142.50px" viewBox="0 0 44 142.50"><path d="M12 0H30V113.00H43L21.6 142.50L0.2 113.00H12Z" fill="#c5c6c8"/></svg>
<svg class="r" style="left:51px;top:892.00px;width:44px;height:255.50px" viewBox="0 0 44 255.50"><path d="M12 0H30V226.00H43L21.6 255.50L0.2 226.00H12Z" fill="#c5c6c8"/></svg>
<svg class="r" style="left:51px;top:1266.00px;width:44px;height:187.00px" viewBox="0 0 44 187.00"><path d="M12 0H30V158.60H43L21.6 187.00L0.2 158.60H12Z" fill="#c5c6c8"/></svg>
<svg class="r" style="left:51px;top:1575.00px;width:44px;height:135.00px" viewBox="0 0 44 135.00"><path d="M12 0H30V107.00H43L21.6 135.00L0.2 107.00H12Z" fill="#c5c6c8"/></svg>
<div class="r" style="left:16.00px;top:524.00px;width:114.00px;height:114.00px;border-radius:50%;background:#fdfdfd;box-shadow:inset 0 0 0 1.5px #231f20"></div>
<div class="r" style="left:16.00px;top:786.00px;width:114.00px;height:114.00px;border-radius:50%;background:#fffbdc;box-shadow:inset 0 0 0 1.5px #231f20"></div>
<div class="r" style="left:16.00px;top:1160.00px;width:114.00px;height:114.00px;border-radius:50%;background:#fffab6;box-shadow:inset 0 0 0 1.5px #231f20"></div>
<div class="r" style="left:16.00px;top:1468.00px;width:114.00px;height:114.00px;border-radius:50%;background:#fff89e;box-shadow:inset 0 0 0 1.5px #231f20"></div>
<div class="r" style="left:16.50px;top:1723.50px;width:113.00px;height:113.00px;border-radius:50%;background:#fff100;box-shadow:inset 0 0 0 1.5px #231f20"></div>
<div class="r" style="left:130.00px;top:841.90px;width:27.50px;height:1.20px;background:#231f20"></div>
<div class="r" style="left:130.00px;top:1216.40px;width:27.50px;height:1.20px;background:#231f20"></div>
<div class="r" style="left:130.00px;top:1524.40px;width:27.50px;height:1.20px;background:#231f20"></div>
<div class="t" id="t116" style="left:33.03px;top:562.62px;font-size:18.17px;font-weight:400;color:#231f20;transform:scaleX(0.8317);-webkit-text-stroke-width:0.27px;">Selection of</div>
<div class="t" id="t117" style="left:26.76px;top:583.12px;font-size:18.17px;font-weight:400;color:#231f20;transform:scaleX(0.8461);-webkit-text-stroke-width:0.27px;">specifications</div>
<div class="t" id="t118" style="left:33.03px;top:824.37px;font-size:18.17px;font-weight:400;color:#231f20;transform:scaleX(0.8317);-webkit-text-stroke-width:0.27px;">Selection of</div>
<div class="t" id="t119" style="left:50.50px;top:845.12px;font-size:18.17px;font-weight:400;color:#231f20;transform:scaleX(0.8901);-webkit-text-stroke-width:0.27px;">switch</div>
<div class="t" id="t120" style="left:33.03px;top:1200.22px;font-size:18.17px;font-weight:400;color:#231f20;transform:scaleX(0.8317);-webkit-text-stroke-width:0.27px;">Selection of</div>
<div class="t" id="t121" style="left:22.29px;top:1218.92px;font-size:18.17px;font-weight:400;color:#231f20;transform:scaleX(0.8556);-webkit-text-stroke-width:0.27px;">H-L dimension</div>
<div class="t" id="t122" style="left:33.03px;top:1499.12px;font-size:18.17px;font-weight:400;color:#231f20;transform:scaleX(0.8317);-webkit-text-stroke-width:0.27px;">Selection of</div>
<div class="t" id="t123" style="left:33.83px;top:1518.92px;font-size:18.17px;font-weight:400;color:#231f20;transform:scaleX(0.8506);-webkit-text-stroke-width:0.27px;">under neck</div>
<div class="t" id="t124" style="left:37.32px;top:1539.02px;font-size:18.17px;font-weight:400;color:#231f20;transform:scaleX(0.8525);-webkit-text-stroke-width:0.27px;">dimension</div>
<div class="t" id="t125" style="left:25.78px;top:1763.12px;font-size:18.17px;font-weight:400;color:#231f20;transform:scaleX(0.8405);-webkit-text-stroke-width:0.27px;">Completion of</div>
<div class="t" id="t126" style="left:42.26px;top:1781.12px;font-size:18.17px;font-weight:400;color:#231f20;transform:scaleX(0.8527);-webkit-text-stroke-width:0.27px;">selection</div>
<svg class="r" style="left:0;top:0;width:1061px;height:1850px" viewBox="0 0 1061 1850"><path d="M886.20 1138.6V1199.7M914.10 1138.6V1199.7" stroke="#231f20" stroke-width="1.15" fill="none"/><path d="M882.00 1138.60V1134.20Q882.00 1129.00 900.00 1127.40Q918.00 1129.00 918.00 1134.20V1138.60Z" stroke="#231f20" stroke-width="1.15" fill="#fdfdfd"/><rect x="882.00" y="1199.7" width="36.00" height="6.4" stroke="#231f20" stroke-width="1.15" fill="#fdfdfd"/><path d="M899.80 1148.10V1216.50" stroke="#231f20" stroke-width="1.15"/><rect x="890.80" y="1145.10" width="18.70" height="4" fill="#e6142a" stroke="#7a1a1f" stroke-width="0.6"/><rect x="890.00" y="1216.20" width="19.6" height="21" rx="9.8" ry="9.8" stroke="#231f20" stroke-width="1.15" fill="#fdfdfd"/><path d="M945.40 1138.6V1199.7M973.60 1138.6V1199.7" stroke="#231f20" stroke-width="1.15" fill="none"/><path d="M941.30 1138.60V1134.20Q941.30 1129.00 959.55 1127.40Q977.80 1129.00 977.80 1134.20V1138.60Z" stroke="#231f20" stroke-width="1.15" fill="#fdfdfd"/><rect x="941.30" y="1199.7" width="36.50" height="6.4" stroke="#231f20" stroke-width="1.15" fill="#fdfdfd"/><path d="M959.20 1189.20V1257.20" stroke="#231f20" stroke-width="1.15"/><rect x="950.30" y="1186.20" width="18.40" height="4" fill="#e6142a" stroke="#7a1a1f" stroke-width="0.6"/><rect x="949.40" y="1257.10" width="19.6" height="21" rx="9.8" ry="9.8" stroke="#231f20" stroke-width="1.15" fill="#fdfdfd"/><path d="M855.4 1148.9H991.3M855.4 1189.9H991.3" stroke="#f0505a" stroke-width="1.1" fill="none"/><path d="M846.4 1206.1H991.3" stroke="#231f20" stroke-width="1.2"/><path d="M846.4 1278.2H991.3" stroke="#4a4a4c" stroke-width="1.6"/><path d="M846.4 1226.7H890M909.6 1226.7H991.3M846.4 1267.6H949.4M969 1267.6H991.3" stroke="#2f86c8" stroke-width="1.2" fill="none"/><path d="M872.60 1149.80L877.50 1154.40H875.10V1184.20H877.50L872.60 1188.80L867.70 1184.20H870.10V1154.40H867.70Z" fill="#e6142a"/><path d="M872.60 1227.80L877.50 1232.40H875.10V1262.20H877.50L872.60 1266.80L867.70 1262.20H870.10V1232.40H867.70Z" fill="#0a6ebd"/><path d="M909 1270.7H941.4V1268.4L949.6 1272.4L941.4 1276.4V1274.1H909Z" stroke="#231f20" stroke-width="1.15" fill="#fdfdfd" stroke-width="1"/><path d="M903 1460.4V1533.6M933 1460.4V1533.6" stroke="#231f20" stroke-width="1.15" fill="none"/><path d="M898.40 1460.40V1454.50Q898.40 1448.60 918.00 1447.00Q937.60 1448.60 937.60 1454.50V1460.40Z" stroke="#231f20" stroke-width="1.15" fill="#fdfdfd"/><rect x="898.4" y="1533.6" width="39.2" height="7.7" stroke="#231f20" stroke-width="1.15" fill="#fdfdfd"/><path d="M852.8 1472.7H991" stroke="#f0505a" stroke-width="1.1"/><path d="M917.7 1472V1554.4" stroke="#231f20" stroke-width="1.15"/><rect x="908.1" y="1468" width="19.7" height="4.7" fill="#e6142a" stroke="#7a1a1f" stroke-width="0.6"/><path d="M854.2 1541.5H991" stroke="#231f20" stroke-width="1.2"/><path d="M854.2 1566.4H907.5M927.8 1566.4H991" stroke="#2f86c8" stroke-width="1.2" fill="none"/><rect x="907.5" y="1554.4" width="20.3" height="24.2" rx="10.1" ry="10.5" stroke="#231f20" stroke-width="1.15" fill="#fdfdfd"/><path d="M961.20 1542.80L966.20 1547.60H963.50V1560.40H966.20L961.20 1565.20L956.20 1560.40H958.90V1547.60H956.20Z" fill="#0a6ebd"/></svg>
<div class="t" id="t127" style="left:829.03px;top:1143.16px;font-size:13.52px;font-weight:400;color:#3d3a3b;transform:scaleX(0.9460);">(H)</div>
<div class="t" id="t128" style="left:828.97px;top:1184.36px;font-size:13.52px;font-weight:400;color:#3d3a3b;transform:scaleX(1.0219);">(L)</div>
<svg class="r" style="left:0;top:0;width:1061px;height:1850px;mix-blend-mode:multiply" viewBox="0 0 1061 1850"><path fill-rule="evenodd" fill="#6998c9" d="M616.8 509a51.8 53 0 1 0 103.6 0a51.8 53 0 1 0 -103.6 0ZM641.8 525.3A31.5 31.5 0 0 1 678.3 479.3L670 487.9L678.5 512.2L695.1 492.8A31.5 31.5 0 0 1 658.9 540L665.9 528.3L657.7 502.6Z"/></svg>
<div class="t" id="t129" style="left:741.96px;top:521.45px;font-size:26.16px;font-weight:400;color:#868686;transform:scaleX(0.8508);mix-blend-mode:multiply;">IZE INDUSTRIES</div>
<svg class="r" style="left:743px;top:476.5px;width:152px;height:36px" viewBox="0 0 152 36"><g fill="none" stroke="#3e3a39" stroke-width="4.1" stroke-linecap="round" stroke-linejoin="round"><path d="M3.4 2.9L32.4 1.4M9.4 4.9L10.9 8.7M18.9 4.5L19.6 8.3M28.7 4.2L26.8 8.7M3.8 17.6L2.7 11H34L32 17.8M12.8 11V18M4.2 18.1H32M12.8 18.5Q9 27.5 1.5 34M14 22.3H30.2Q26 27.5 21.9 29Q15 32.7 8.3 34M15.1 25.7Q21 30 34 34"/><g transform="translate(38.5 0)"><path d="M2.6 1.9L7.5 5.3M2.2 11.7L6.4 14.7M2.2 32.8Q5.5 27 7.5 21.1M12.4 2.4H32Q25 12 10.5 16.2M14.3 3.8Q21 12.5 33.9 15.9M12.4 21.9H32.8M10.5 29.1H34.3M22.4 17.4V34.6"/></g><g transform="translate(78.5 0)"><path d="M2.5 4.4H30.8M16.7 4.4V31.3M1.2 31.3H31.9"/></g><g transform="translate(117 0)"><path d="M1.7 6.8Q5 14 7.4 24.2M13.1 1.9V32.8M20.6 1.9V32.8M32.7 6.4Q30 16 26.2 24.2M1 33H33"/></g></g></svg>
</body></html>
